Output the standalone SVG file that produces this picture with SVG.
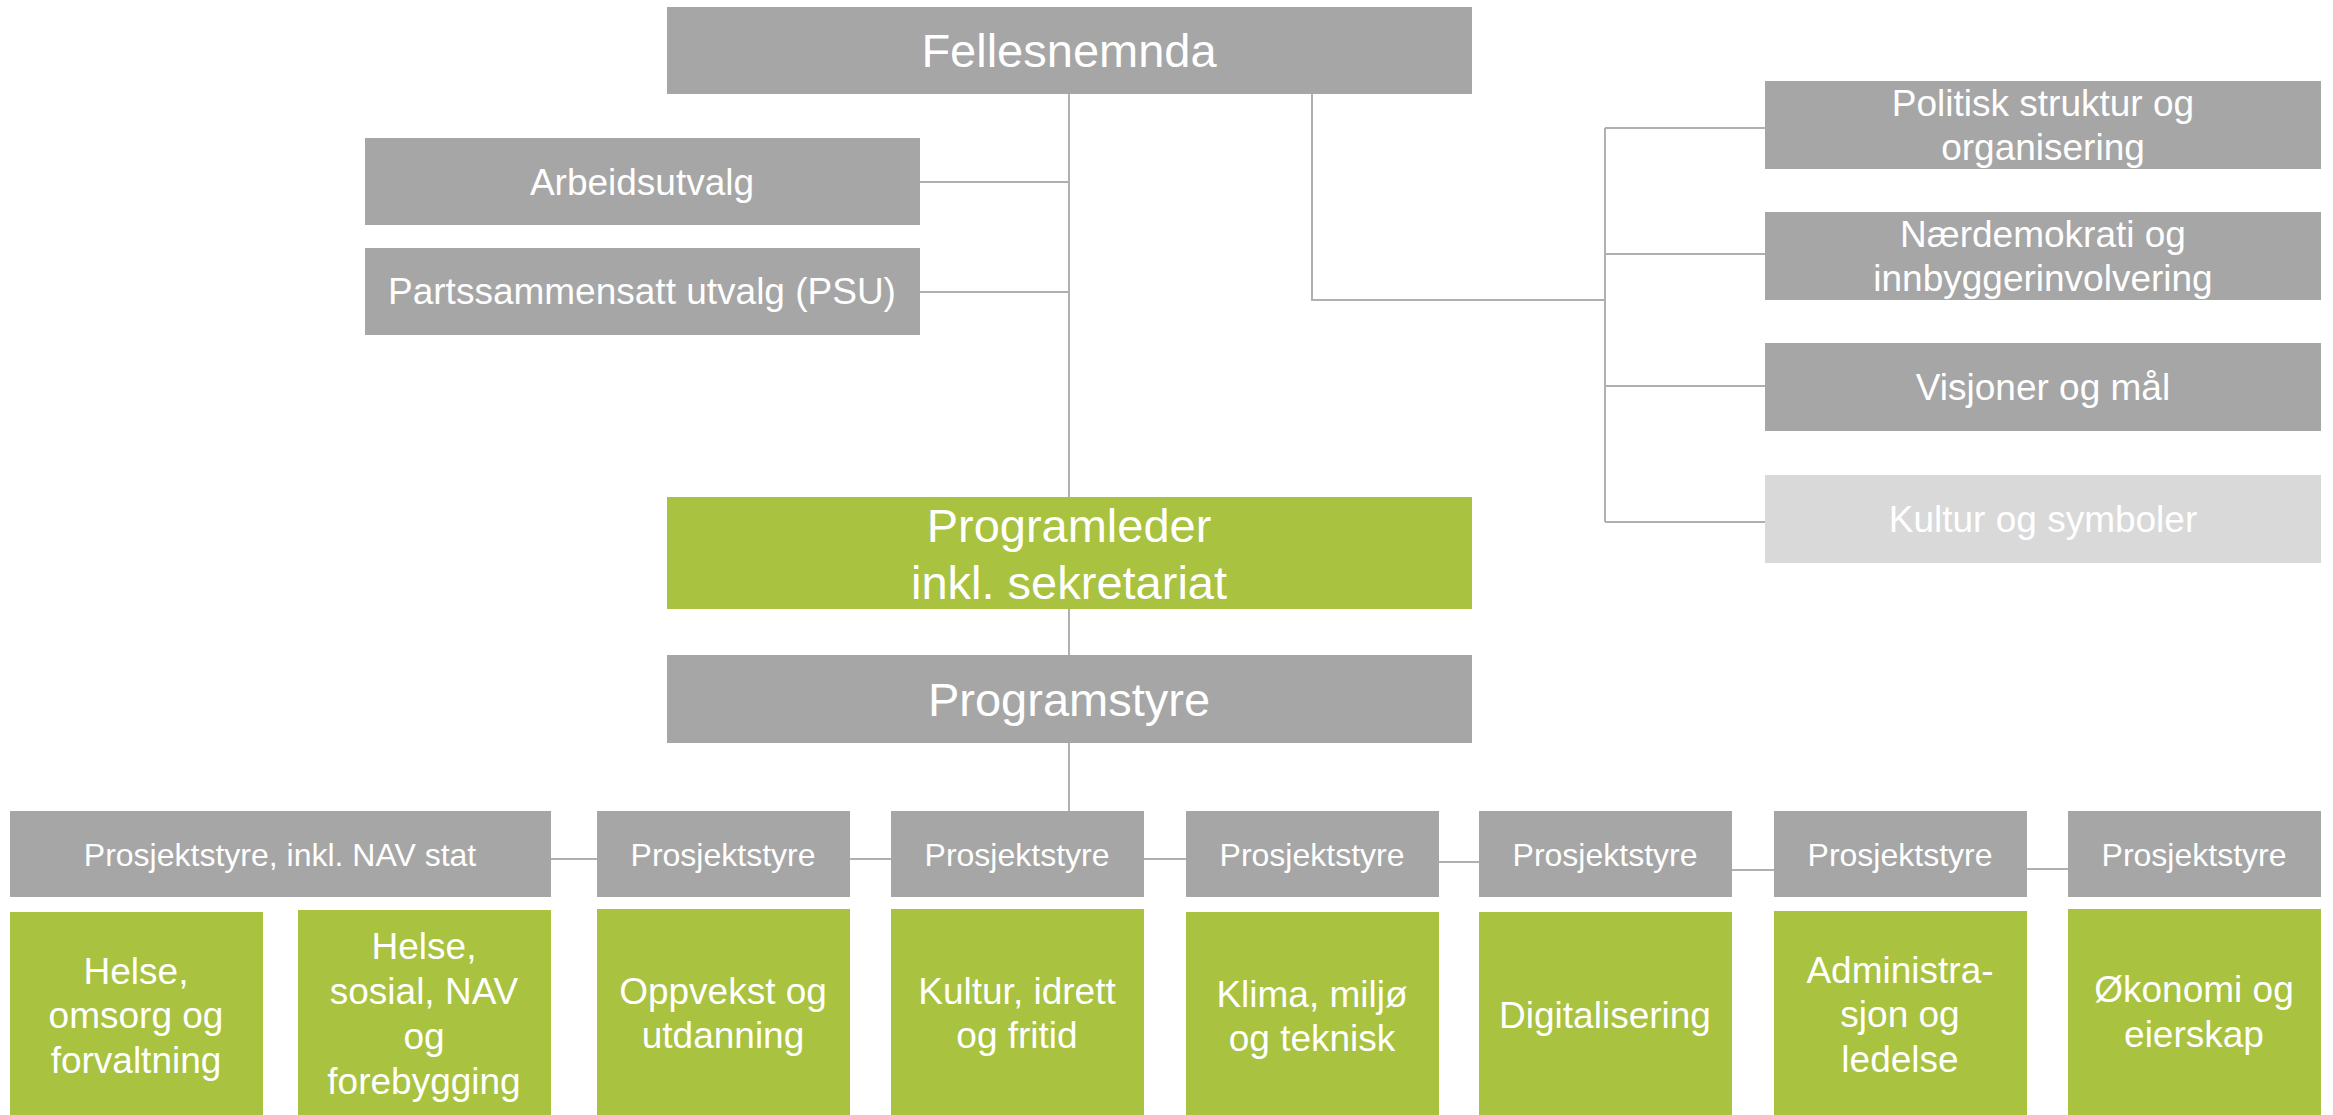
<svg xmlns="http://www.w3.org/2000/svg" width="2333" height="1115" viewBox="0 0 2333 1115">
<style>
.g{fill:#a6a6a6}
.lg{fill:#d9d9d9}
.gr{fill:#a9c23f}
text{font-family:"Liberation Sans",Arial,sans-serif;fill:#fff;text-anchor:middle}
.t46{font-size:47px}
.t36{font-size:37px}
.t32{font-size:32px}
.t37{font-size:37px}
.c line,.c polyline{stroke:#b0b0b0;stroke-width:2;fill:none}
</style>
<rect width="2333" height="1115" fill="#fff"/>
<g class="c" id="connectors">
<line x1="1069" y1="94" x2="1069" y2="497"/>
<line x1="1069" y1="609" x2="1069" y2="655"/>
<line x1="1069" y1="743" x2="1069" y2="811"/>
<line x1="920" y1="182" x2="1069" y2="182"/>
<line x1="920" y1="292" x2="1069" y2="292"/>
<polyline points="1312,94 1312,300 1605,300"/>
<line x1="1605" y1="128" x2="1605" y2="522"/>
<line x1="1605" y1="128" x2="1765" y2="128"/>
<line x1="1605" y1="254" x2="1765" y2="254"/>
<line x1="1605" y1="386" x2="1765" y2="386"/>
<line x1="1605" y1="522" x2="1765" y2="522"/>
<line x1="551" y1="859" x2="597" y2="859"/>
<line x1="850" y1="859" x2="891" y2="859"/>
<line x1="1144" y1="859" x2="1186" y2="859"/>
<line x1="1439" y1="862" x2="1479" y2="862"/>
<line x1="1732" y1="870" x2="1774" y2="870"/>
<line x1="2027" y1="869" x2="2068" y2="869"/>
</g>
<g id="fellesnemnda"><rect class="g" x="667" y="7" width="805" height="87"/><text class="t46" x="1069" y="67">Fellesnemnda</text></g>
<g id="arbeidsutvalg"><rect class="g" x="365" y="138" width="555" height="87"/><text class="t36" x="642" y="195">Arbeidsutvalg</text></g>
<g id="psu"><rect class="g" x="365" y="248" width="555" height="87"/><text class="t36" x="642" y="304">Partssammensatt utvalg (PSU)</text></g>
<g id="politisk"><rect class="g" x="1765" y="81" width="556" height="88"/><text class="t36" x="2043" y="116">Politisk struktur og</text><text class="t36" x="2043" y="160">organisering</text></g>
<g id="naerdemokrati"><rect class="g" x="1765" y="212" width="556" height="88"/><text class="t36" x="2043" y="247">Nærdemokrati og</text><text class="t36" x="2043" y="291">innbyggerinvolvering</text></g>
<g id="visjoner"><rect class="g" x="1765" y="343" width="556" height="88"/><text class="t36" x="2043" y="400">Visjoner og mål</text></g>
<g id="kultur-symboler"><rect class="lg" x="1765" y="475" width="556" height="88"/><text class="t36" x="2043" y="532">Kultur og symboler</text></g>
<g id="programleder"><rect class="gr" x="667" y="497" width="805" height="112"/><text class="t46" x="1069" y="542">Programleder</text><text class="t46" x="1069" y="599">inkl. sekretariat</text></g>
<g id="programstyre"><rect class="g" x="667" y="655" width="805" height="88"/><text class="t46" x="1069" y="716">Programstyre</text></g>
<g id="ps1"><rect class="g" x="10" y="811" width="541" height="86"/><text class="t32" x="280" y="866">Prosjektstyre, inkl. NAV stat</text></g>
<g id="ps2"><rect class="g" x="597" y="811" width="253" height="86"/><text class="t32" x="723" y="866">Prosjektstyre</text></g>
<g id="ps3"><rect class="g" x="891" y="811" width="253" height="86"/><text class="t32" x="1017" y="866">Prosjektstyre</text></g>
<g id="ps4"><rect class="g" x="1186" y="811" width="253" height="86"/><text class="t32" x="1312" y="866">Prosjektstyre</text></g>
<g id="ps5"><rect class="g" x="1479" y="811" width="253" height="86"/><text class="t32" x="1605" y="866">Prosjektstyre</text></g>
<g id="ps6"><rect class="g" x="1774" y="811" width="253" height="86"/><text class="t32" x="1900" y="866">Prosjektstyre</text></g>
<g id="ps7"><rect class="g" x="2068" y="811" width="253" height="86"/><text class="t32" x="2194" y="866">Prosjektstyre</text></g>
<g id="helse1"><rect class="gr" x="10" y="912" width="253" height="203"/><text class="t37" x="136" y="984">Helse,</text><text class="t37" x="136" y="1028">omsorg og</text><text class="t37" x="136" y="1073">forvaltning</text></g>
<g id="helse2"><rect class="gr" x="298" y="910" width="253" height="205"/><text class="t37" x="424" y="959">Helse,</text><text class="t37" x="424" y="1004">sosial, NAV</text><text class="t37" x="424" y="1049">og</text><text class="t37" x="424" y="1094">forebygging</text></g>
<g id="oppvekst"><rect class="gr" x="597" y="909" width="253" height="206"/><text class="t37" x="723" y="1004">Oppvekst og</text><text class="t37" x="723" y="1048">utdanning</text></g>
<g id="kultur-idrett"><rect class="gr" x="891" y="909" width="253" height="206"/><text class="t37" x="1017" y="1004">Kultur, idrett</text><text class="t37" x="1017" y="1048">og fritid</text></g>
<g id="klima"><rect class="gr" x="1186" y="912" width="253" height="203"/><text class="t37" x="1312" y="1007">Klima, miljø</text><text class="t37" x="1312" y="1051">og teknisk</text></g>
<g id="digitalisering"><rect class="gr" x="1479" y="912" width="253" height="203"/><text class="t37" x="1605" y="1028">Digitalisering</text></g>
<g id="administrasjon"><rect class="gr" x="1774" y="911" width="253" height="204"/><text class="t37" x="1900" y="983">Administra-</text><text class="t37" x="1900" y="1027">sjon og</text><text class="t37" x="1900" y="1072">ledelse</text></g>
<g id="okonomi"><rect class="gr" x="2068" y="909" width="253" height="206"/><text class="t37" x="2194" y="1002">Økonomi og</text><text class="t37" x="2194" y="1047">eierskap</text></g>
</svg>
